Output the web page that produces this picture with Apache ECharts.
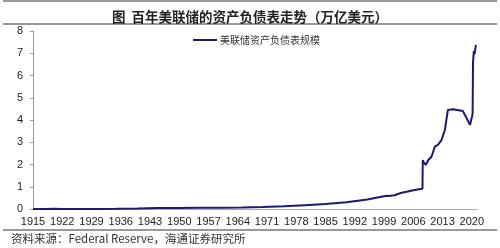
<!DOCTYPE html>
<html>
<head>
<meta charset="utf-8">
<script src="https://cdn.jsdelivr.net/npm/echarts@6/dist/echarts.min.js"></script>
<style>
  html, body { margin: 0; padding: 0; background: #fff; }
  #chart { width: 500px; height: 248px; }
</style>
</head>
<body>
<div id="chart"></div>
<script>
// years (decimal) and Fed balance sheet size, trillion USD
const years = [1915, 1918, 1920, 1922, 1925, 1930, 1935, 1940, 1945, 1950, 1955, 1960,
  1965, 1970, 1975, 1980, 1985, 1990, 1995, 1999.6, 1999.8, 2000.1, 2001.5, 2001.7, 2001.9,
  2003, 2005, 2006, 2007, 2008.2, 2008.27, 2008.5, 2008.99, 2009.6, 2010.36, 2011.15,
  2011.88, 2012.3, 2012.76, 2013.56, 2014.28, 2015.5, 2016.5, 2017.88, 2018.7, 2019.57,
  2019.85, 2020.05, 2020.2, 2020.3, 2020.5, 2020.65, 2020.85, 2021.0];
const balance = [0.001, 0.004, 0.006, 0.005, 0.005, 0.005, 0.01, 0.025, 0.045, 0.047, 0.052, 0.054,
  0.065, 0.085, 0.12, 0.17, 0.22, 0.3, 0.43, 0.6, 0.68, 0.58, 0.62, 0.68, 0.63,
  0.72, 0.8, 0.84, 0.88, 0.91, 2.2, 2.1, 1.98, 2.2, 2.35, 2.8,
  2.88, 2.92, 3.1, 3.55, 4.45, 4.48, 4.45, 4.4, 4.1, 3.78,
  4.0, 4.15, 4.3, 6.6, 7.1, 6.95, 7.2, 7.37];
const firstYear = 1915;
const seriesName = '美联储资产负债表规模';

const chart = echarts.init(document.getElementById('chart'), null, { renderer: 'canvas' });

const points = years.map((y, i) => [y - firstYear, balance[i]]);

chart.setOption({
  animation: false,
  backgroundColor: '#fff',
  title: {
    text: '图  百年美联储的资产负债表走势（万亿美元）',
    left: 'center',
    top: 5,
    textStyle: { fontFamily: 'Noto Sans CJK SC', fontSize: 13.5, fontWeight: 'bold', color: '#222' }
  },
  legend: {
    left: 188,
    top: 30,
    icon: 'rect',
    itemWidth: 24,
    itemHeight: 2,
    itemGap: 4,
    textStyle: { fontFamily: 'Noto Sans CJK SC', fontSize: 10, color: '#333', padding: [0, 0, 0, -2] },
    data: [seriesName]
  },
  grid: { left: 33, right: 23, top: 31, bottom: 39 },
  xAxis: {
    type: 'value',
    min: 0,
    max: 106.25,
    interval: 7,
    splitLine: { show: false },
    axisLine: { lineStyle: { color: '#aaa', width: 1 } },
    axisTick: { show: false },
    axisLabel: {
      showMaxLabel: false,
      margin: 7,
      fontFamily: 'Arial',
      fontSize: 11,
      color: '#222',
      formatter: v => String(firstYear + v)
    }
  },
  yAxis: {
    type: 'value',
    min: 0,
    max: 8,
    interval: 1,
    splitLine: { show: false },
    axisLine: { show: true, lineStyle: { color: '#999', width: 1 } },
    axisTick: { show: true, length: 3, lineStyle: { color: '#999' } },
    axisLabel: { margin: 10, fontFamily: 'Arial', fontSize: 11, color: '#222' }
  },
  graphic: [
    { type: 'rect', shape: { x: 3, y: 0, width: 494, height: 2 }, style: { fill: '#999' } },
    { type: 'rect', shape: { x: 3, y: 23, width: 494, height: 2 }, style: { fill: '#999' } },
    { type: 'rect', shape: { x: 3, y: 229, width: 494, height: 2 }, style: { fill: '#999' } },
    {
      type: 'text', left: 11, top: 233,
      style: { text: '资料来源：Federal Reserve，海通证券研究所', font: '11.5px "Noto Sans CJK SC"', fill: '#333' }
    }
  ],
  series: [{
    name: seriesName,
    type: 'line',
    data: points,
    showSymbol: false,
    lineStyle: { color: '#1b1a6e', width: 2 },
    itemStyle: { color: '#1b1a6e' }
  }]
});
</script>
</body>
</html>
